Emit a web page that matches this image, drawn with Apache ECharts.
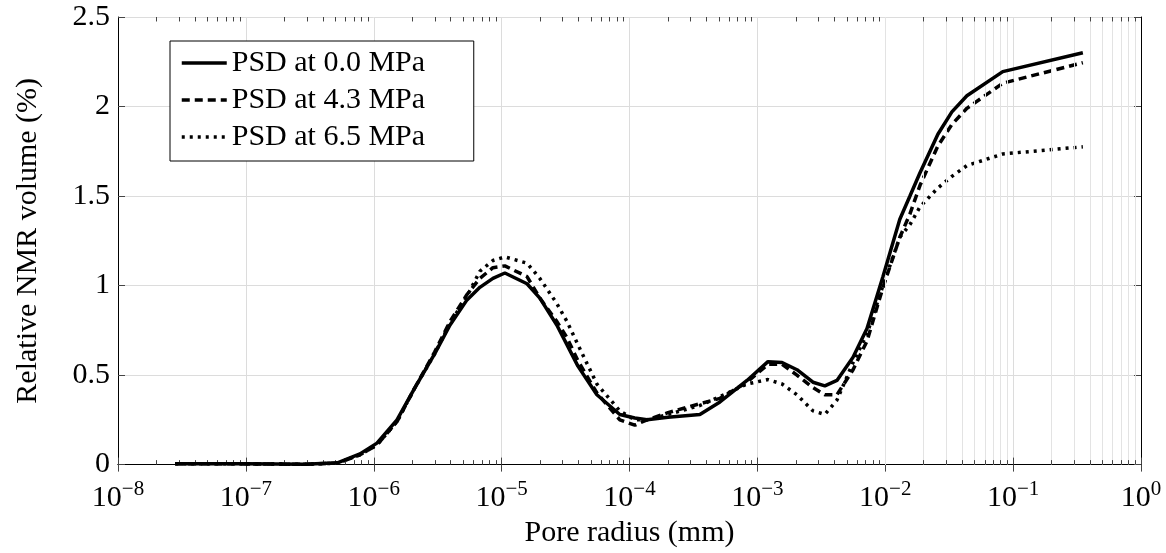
<!DOCTYPE html>
<html>
<head>
<meta charset="utf-8">
<script src="https://cdn.jsdelivr.net/npm/echarts@6/dist/echarts.min.js"></script>
<style>
html,body{margin:0;padding:0;background:#fff;}
#chart{width:1166px;height:553px;}
</style>
</head>
<body>
<div id="chart"></div>
<script>
// Pore radius (mm)
var radius = [2.8e-8, 1e-7, 2.9e-7, 5.2e-7, 7.8e-7, 1.06e-6, 1.52e-6, 2.1e-6, 3.0e-6, 3.95e-6,
  5.36e-6, 6.76e-6, 8.55e-6, 1.06e-5, 1.58e-5, 1.99e-5, 2.7e-5, 3.24e-5, 3.95e-5, 5.56e-5,
  8.4e-5, 1.1e-4, 1.37e-4, 2e-4, 3.55e-4, 5.1e-4, 8.3e-4, 1.21e-3, 1.56e-3, 2.04e-3,
  2.72e-3, 3.37e-3, 4.19e-3, 5.6e-3, 7.2e-3, 9.6e-3, 1.3e-2, 1.56e-2, 1.87e-2, 2.58e-2,
  3.32e-2, 4.35e-2, 8.3e-2, 0.351];
var psd00 = [0.005, 0.005, 0.002, 0.01, 0.06, 0.12, 0.25, 0.43, 0.62, 0.78,
  0.92, 0.99, 1.04, 1.07, 1.01, 0.93, 0.78, 0.67, 0.55, 0.39,
  0.28, 0.26, 0.25, 0.265, 0.28, 0.35, 0.47, 0.575, 0.57, 0.53,
  0.46, 0.44, 0.47, 0.60, 0.76, 1.05, 1.37, 1.50, 1.63, 1.845,
  1.97, 2.06, 2.195, 2.30];
var psd43 = [0.005, 0.004, 0.002, 0.008, 0.055, 0.11, 0.24, 0.43, 0.63, 0.80,
  0.95, 1.04, 1.10, 1.11, 1.05, 0.93, 0.80, 0.71, 0.58, 0.40,
  0.25, 0.22, 0.25, 0.29, 0.34, 0.37, 0.46, 0.56, 0.56, 0.50,
  0.43, 0.39, 0.39, 0.53, 0.69, 0.99, 1.27, 1.40, 1.56, 1.78,
  1.90, 1.99, 2.13, 2.245];
var psd65 = [0.005, 0.004, 0.002, 0.008, 0.055, 0.11, 0.24, 0.43, 0.62, 0.79,
  0.94, 1.08, 1.14, 1.16, 1.125, 1.04, 0.90, 0.80, 0.67, 0.45,
  0.30, 0.25, 0.25, 0.28, 0.33, 0.38, 0.45, 0.475, 0.45, 0.39,
  0.30, 0.28, 0.36, 0.57, 0.73, 1.00, 1.27, 1.34, 1.44, 1.545,
  1.61, 1.67, 1.735, 1.775];
var seriesNames = ['PSD at 0.0 MPa', 'PSD at 4.3 MPa', 'PSD at 6.5 MPa'];
var decadeExponents = [-8, -7, -6, -5, -4, -3, -2, -1];
var minorMultipliers = [2, 3, 4, 5, 6, 7, 8, 9];

function zip(xs, ys) { return xs.map(function (x, i) { return [x, ys[i]]; }); }

var minorValues = [];
decadeExponents.forEach(function (e) {
  minorMultipliers.forEach(function (m) { minorValues.push(m * Math.pow(10, e)); });
});

var minorGridLines = minorValues.map(function (v) { return { xAxis: v }; });
var minorTickMarks = [];
minorValues.forEach(function (v) {
  minorTickMarks.push([{ coord: [v, 0] }, { coord: [v, 0.025] }]);
  minorTickMarks.push([{ coord: [v, 2.5] }, { coord: [v, 2.475] }]);
});

var FONT = 'Liberation Serif';
function expLabel(v) {
  var e = Math.round(Math.log(v) / Math.LN10);
  var s = String(e).replace('-', '\u2212');
  return '{b|10}{s|' + s + '}';
}

var xAxisCommon = {
  type: 'log', logBase: 10, min: 1e-8, max: 1, splitNumber: 8,
  axisLine: { show: true, lineStyle: { color: '#000', width: 1 } },
  axisTick: { show: true, inside: true, length: 7, lineStyle: { color: '#444', width: 1 } },
  minorTick: { show: false },
  minorSplitLine: { show: false }
};

var LW = 3.5;

var option = {
  backgroundColor: '#fff',
  animation: false,
  grid: { left: 118, right: 25, top: 17, bottom: 85, containLabel: false },
  legend: {
    data: seriesNames.map(function (n) { return { name: n }; }),
    orient: 'vertical',
    left: 170, top: 41,
    backgroundColor: '#fff',
    borderColor: '#000', borderWidth: 1, borderRadius: 0,
    padding: [7, 10, 9, 10],
    itemGap: 7,
    itemWidth: 45, itemHeight: 30,
    itemStyle: { color: 'rgba(0,0,0,0)', borderWidth: 0, opacity: 0 },
    lineStyle: { width: LW },
    textStyle: { fontFamily: FONT, fontSize: 30, color: '#000', lineHeight: 30, width: 232 },
    selectedMode: false
  },
  xAxis: [
    Object.assign({}, xAxisCommon, {
      position: 'bottom',
      name: 'Pore radius (mm)', nameLocation: 'middle', nameGap: 50,
      nameTextStyle: { fontFamily: FONT, fontSize: 30, color: '#000', verticalAlign: 'top' },
      axisLabel: {
        margin: 14,
        formatter: expLabel,
        rich: {
          b: { fontFamily: FONT, fontSize: 30, color: '#000' },
          s: { fontFamily: FONT, fontSize: 21, color: '#000', padding: [0, 0, 18, 0] }
        }
      },
      splitLine: { show: true, lineStyle: { color: '#dcdcdc', width: 1 } }
    }),
    Object.assign({}, xAxisCommon, {
      position: 'top',
      axisLabel: { show: false },
      splitLine: { show: false }
    })
  ],
  yAxis: [
    {
      type: 'value', min: 0, max: 2.5, interval: 0.5, position: 'left',
      name: 'Relative NMR volume (%)', nameLocation: 'middle', nameGap: 75,
      nameTextStyle: { fontFamily: FONT, fontSize: 30, color: '#000' },
      axisLine: { show: true, lineStyle: { color: '#000', width: 1 } },
      axisTick: { show: true, inside: true, length: 7, lineStyle: { color: '#444' } },
      axisLabel: { margin: 8, fontFamily: FONT, fontSize: 30, color: '#000' },
      splitLine: { show: true, lineStyle: { color: '#dcdcdc', width: 1 } }
    },
    {
      type: 'value', min: 0, max: 2.5, interval: 0.5, position: 'right',
      axisLine: { show: true, lineStyle: { color: '#000', width: 1 } },
      axisTick: { show: true, inside: true, length: 7, lineStyle: { color: '#444' } },
      axisLabel: { show: false },
      splitLine: { show: false }
    }
  ],
  series: [
    {
      name: 'minor-grid', type: 'line', data: [], silent: true, z: 1,
      markLine: {
        silent: true, symbol: 'none', label: { show: false }, animation: false,
        lineStyle: { color: '#e3e3e3', width: 1, type: 'solid' },
        data: minorGridLines
      }
    },
    {
      name: 'minor-ticks', type: 'line', data: [], silent: true, z: 2,
      markLine: {
        silent: true, symbol: 'none', label: { show: false }, animation: false,
        lineStyle: { color: '#444', width: 1, type: 'solid' },
        data: minorTickMarks
      }
    },
    {
      name: seriesNames[0], type: 'line', data: zip(radius, psd00),
      symbol: 'none', showSymbol: false, smooth: false, z: 5,
      lineStyle: { color: '#000', width: LW, type: 'solid' }, itemStyle: { color: '#000' }
    },
    {
      name: seriesNames[1], type: 'line', data: zip(radius, psd43),
      symbol: 'none', showSymbol: false, smooth: false, z: 4,
      lineStyle: { color: '#000', width: LW, type: [8, 5] }, itemStyle: { color: '#000' }
    },
    {
      name: seriesNames[2], type: 'line', data: zip(radius, psd65),
      symbol: 'none', showSymbol: false, smooth: false, z: 3,
      lineStyle: { color: '#000', width: LW, type: [3, 5] }, itemStyle: { color: '#000' }
    }
  ]
};

var chart = echarts.init(document.getElementById('chart'), null, { renderer: 'canvas' });
chart.setOption(option);
</script>
</body>
</html>
